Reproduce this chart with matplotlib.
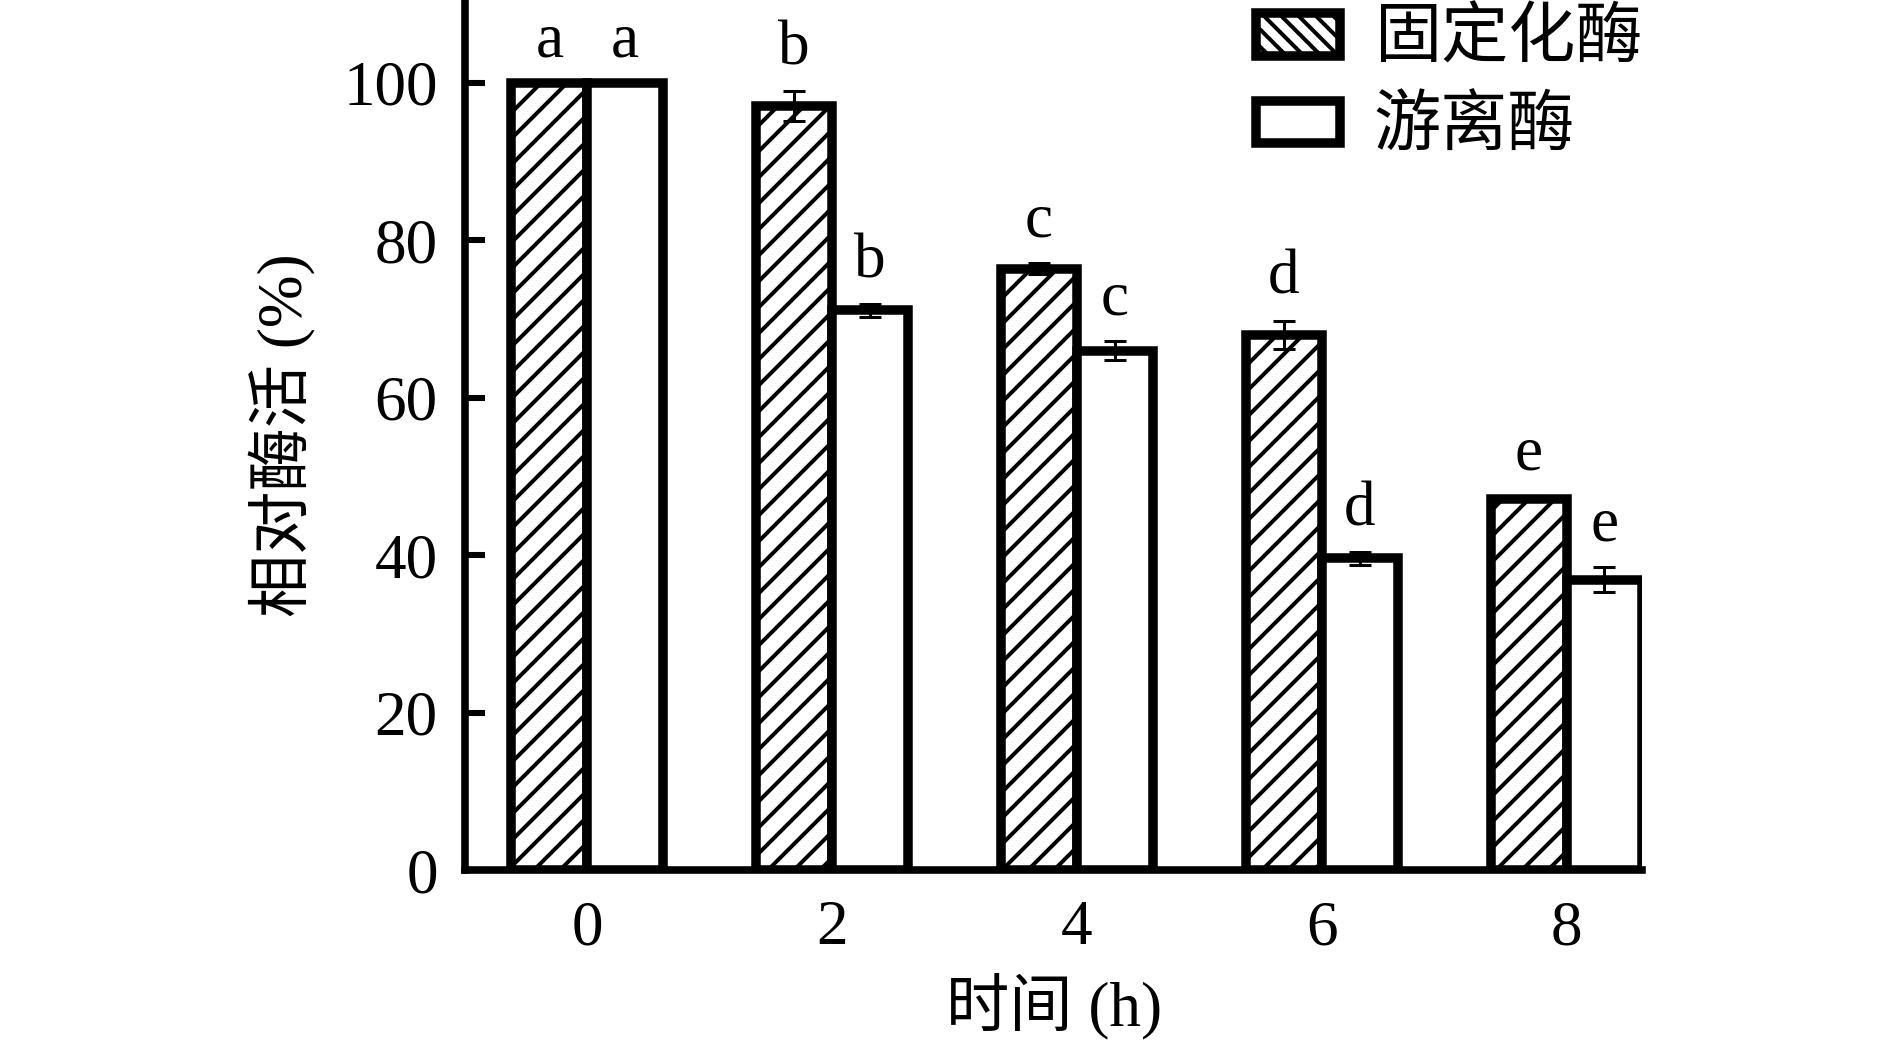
import matplotlib as mpl
mpl.use("Agg")
import matplotlib.pyplot as plt
import numpy as np
from matplotlib.patches import Patch

plt.rcParams["font.family"] = ["Liberation Serif", "Noto Sans CJK SC"]
plt.rcParams["hatch.linewidth"] = 1.85

# Datos
times = ["0", "2", "4", "6", "8"]
immobilized = [100, 97.1, 76.4, 68.0, 47.2]
immobilized_err = [0, 1.9, 0.7, 1.8, 0.3]
free = [100, 71.1, 66.0, 39.6, 36.9]
free_err = [0, 0.8, 1.2, 0.8, 1.6]
letters_imm = ["a", "b", "c", "d", "e"]
letters_free = ["a", "b", "c", "d", "e"]

dpi = 156
fs = 29.2
lw = 4.4
w = 0.31
x = np.arange(len(times))

fig = plt.figure(figsize=(1890 / dpi, 1047 / dpi), dpi=dpi)
ax = fig.add_axes([0.246, 0.169, 0.623, 0.830])

ax.bar(x - w / 2, immobilized, w, color="white", edgecolor="black",
       hatch="//", linewidth=lw, zorder=2)
ax.bar(x + w / 2, free, w, color="white", edgecolor="black",
       linewidth=lw, zorder=2)
ax.errorbar(x - w / 2, immobilized, yerr=immobilized_err, fmt="none",
            ecolor="black", elinewidth=1.4, capsize=5.3, capthick=1.4, zorder=3)
ax.errorbar(x + w / 2, free, yerr=free_err, fmt="none",
            ecolor="black", elinewidth=1.4, capsize=5.3, capthick=1.4, zorder=3)

for xi, v, e, lab in zip(x - w / 2, immobilized, immobilized_err, letters_imm):
    ax.text(xi, v + e + 3.4, lab, ha="center", va="baseline", fontsize=fs)
for xi, v, e, lab in zip(x + w / 2, free, free_err, letters_free):
    ax.text(xi, v + e + 3.4, lab, ha="center", va="baseline", fontsize=fs)

ax.set_xlim(-0.5, len(times) - 1 + w)
ax.set_ylim(0, 110.4)
ax.set_xticks(x)
ax.set_xticklabels(times)
ax.set_yticks([0, 20, 40, 60, 80, 100])

for s in ["top", "right"]:
    ax.spines[s].set_visible(False)
for s in ["left", "bottom"]:
    ax.spines[s].set_linewidth(3.5)

ax.tick_params(axis="y", direction="in", length=9.2, width=2.8, labelsize=fs, pad=12.5)
ax.tick_params(axis="x", direction="in", length=0, labelsize=fs, pad=14)

ax.set_xlabel("时间 (h)", fontsize=fs, labelpad=7)
ax.set_ylabel("相对酶活 (%)", fontsize=fs, labelpad=13)

handles = [
    Patch(facecolor="white", edgecolor="black", hatch="\\\\\\", linewidth=lw, label="固定化酶"),
    Patch(facecolor="white", edgecolor="black", linewidth=lw, label="游离酶"),
]
ax.legend(handles=handles, loc="upper right", bbox_to_anchor=(1.0, 0.99),
          frameon=False, fontsize=31, handlelength=1.25, handleheight=0.6,
          handletextpad=0.5, labelspacing=0.38, borderpad=0.0, borderaxespad=0.0)

plt.savefig("out.png", dpi=dpi)
